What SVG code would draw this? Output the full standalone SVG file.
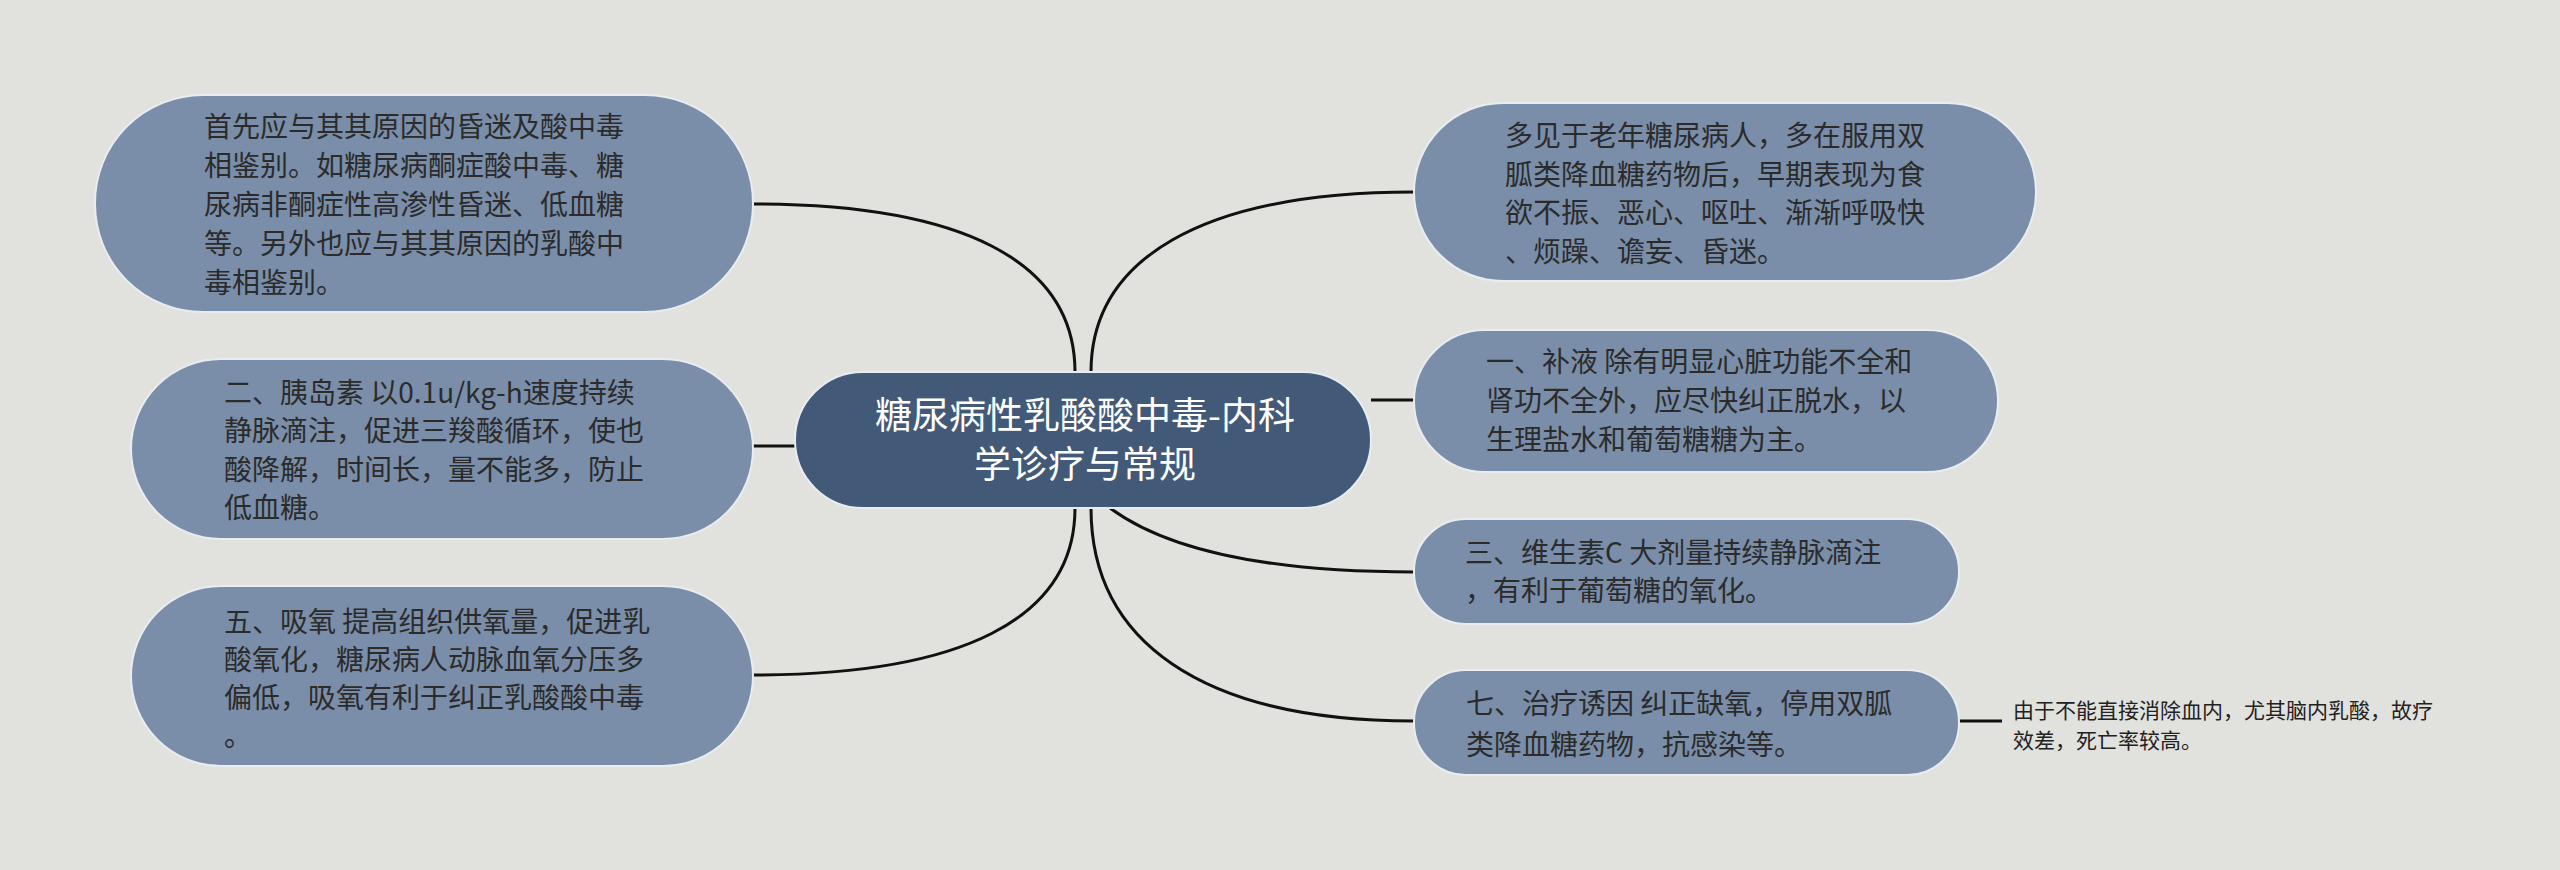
<svg xmlns="http://www.w3.org/2000/svg" width="2560" height="870" viewBox="0 0 2560 870">
<style>
.bg{fill:#e1e1dd}
.node rect{fill:#7a8ea9;stroke:#e9edf2;stroke-width:2}
.center rect{fill:#425a78;stroke:#e9edf2;stroke-width:2}
.t{font-family:"Noto Sans CJK SC","Liberation Sans",sans-serif;font-size:28px;fill:#2b2b2b}
.ct{font-family:"Noto Sans CJK SC","Liberation Sans",sans-serif;font-size:37px;fill:#ffffff;text-anchor:middle}
.st{font-family:"Noto Sans CJK SC","Liberation Sans",sans-serif;font-size:21px;fill:#222}
.conn path{fill:none;stroke:#111;stroke-width:3}
</style>
<rect class="bg" x="0" y="0" width="2560" height="870"/>
<g class="conn" id="connectors">
<path d="M753,204 C960,204 1075,260 1075,372"/>
<path d="M753,446 L795,446"/>
<path d="M753,675 C960,675 1075,620 1075,508"/>
<path d="M1414,192 C1200,192 1091,260 1091,372"/>
<path d="M1371,400 L1414,400"/>
<path d="M1414,572 C1250,572 1160,545 1110,508"/>
<path d="M1414,721 C1200,721 1091,640 1091,508"/>
<path d="M1959,721 L2002,721"/>
</g>
<g class="center" id="center">
<rect x="795" y="372" width="576" height="136" rx="68"/>
<text class="ct" x="1085" y="429">糖尿病性乳酸酸中毒-内科</text>
<text class="ct" x="1085" y="478">学诊疗与常规</text>
</g>
<g class="node" id="nodeA">
<rect x="95" y="95" width="658" height="217" rx="108"/>
<text class="t" x="204" y="137">首先应与其其原因的昏迷及酸中毒</text>
<text class="t" x="204" y="176">相鉴别。如糖尿病酮症酸中毒、糖</text>
<text class="t" x="204" y="215">尿病非酮症性高渗性昏迷、低血糖</text>
<text class="t" x="204" y="254">等。另外也应与其其原因的乳酸中</text>
<text class="t" x="204" y="293">毒相鉴别。</text>
</g>
<g class="node" id="nodeB">
<rect x="131" y="359" width="622" height="180" rx="90"/>
<text class="t" x="224" y="403">二、胰岛素 以0.1u/kg-h速度持续</text>
<text class="t" x="224" y="441">静脉滴注，促进三羧酸循环，使也</text>
<text class="t" x="224" y="480">酸降解，时间长，量不能多，防止</text>
<text class="t" x="224" y="518">低血糖。</text>
</g>
<g class="node" id="nodeC">
<rect x="131" y="586" width="622" height="180" rx="90"/>
<text class="t" x="224" y="632">五、吸氧 提高组织供氧量，促进乳</text>
<text class="t" x="224" y="670">酸氧化，糖尿病人动脉血氧分压多</text>
<text class="t" x="224" y="708">偏低，吸氧有利于纠正乳酸酸中毒</text>
<text class="t" x="224" y="746">。</text>
</g>
<g class="node" id="nodeD">
<rect x="1414" y="103" width="622" height="178" rx="89"/>
<text class="t" x="1505" y="146">多见于老年糖尿病人，多在服用双</text>
<text class="t" x="1505" y="185">胍类降血糖药物后，早期表现为食</text>
<text class="t" x="1505" y="223">欲不振、恶心、呕吐、渐渐呼吸快</text>
<text class="t" x="1505" y="262">、烦躁、谵妄、昏迷。</text>
</g>
<g class="node" id="nodeE">
<rect x="1414" y="330" width="584" height="142" rx="71"/>
<text class="t" x="1486" y="372">一、补液 除有明显心脏功能不全和</text>
<text class="t" x="1486" y="411">肾功不全外，应尽快纠正脱水，以</text>
<text class="t" x="1486" y="450">生理盐水和葡萄糖糖为主。</text>
</g>
<g class="node" id="nodeF">
<rect x="1414" y="519" width="545" height="105" rx="52"/>
<text class="t" x="1465" y="563">三、维生素C 大剂量持续静脉滴注</text>
<text class="t" x="1465" y="601">，有利于葡萄糖的氧化。</text>
</g>
<g class="node" id="nodeG">
<rect x="1414" y="670" width="545" height="105" rx="52"/>
<text class="t" x="1466" y="714">七、治疗诱因 纠正缺氧，停用双胍</text>
<text class="t" x="1466" y="755">类降血糖药物，抗感染等。</text>
</g>
<g id="nodeH">
<text class="st" x="2013" y="718">由于不能直接消除血内，尤其脑内乳酸，故疗</text>
<text class="st" x="2013" y="748">效差，死亡率较高。</text>
</g>
</svg>
